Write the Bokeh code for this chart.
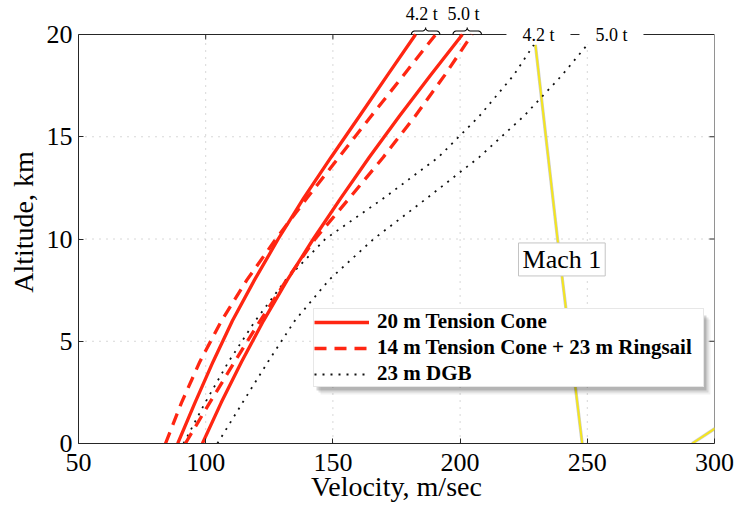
import numpy as np
from bokeh.plotting import figure
from bokeh.models import (Range1d, FixedTicker, Label, Legend, LegendItem,
                          BoxAnnotation)
from bokeh.embed import file_html
from bokeh.resources import INLINE

# --- descent profiles: velocity (m/s) against altitude (km) ---------------
ALT = [0, 2, 4, 6, 8, 10, 12, 14, 16, 18, 20]
cone_42 = [89.0, 95.8, 102.9, 110.5, 119.2, 128.5, 138.5, 149.3, 160.4, 171.4, 182.5]
cone_50 = [98.7, 106.1, 114.1, 122.7, 132.1, 142.3, 153.1, 164.3, 176.1, 188.3, 200.9]
ring_42 = [84.2, 90.5, 97.7, 106.2, 116.2, 127.6, 139.8, 152.4, 165.0, 177.7, 190.4]
ring_50 = [92.0, 101.6, 111.4, 121.4, 131.8, 143.0, 156.5, 169.8, 182.3, 193.9, 204.7]

ALT_DGB = [0, 2, 4, 6, 8, 10, 12, 14, 16, 18, 19.5]
dgb_42 = [91.3, 99.8, 109.0, 119.5, 131.5, 147.0, 170.0, 191.5, 207.5, 221.0, 229.0]
dgb_50 = [104.6, 114.5, 124.5, 135.0, 148.5, 166.0, 187.0, 207.5, 225.0, 240.0, 250.0]

# speed of sound
MACH_ALT = [0, 10, 19.5]
mach_1 = [248.0, 238.3, 229.6]
MACH_ALT_B = [0, 0.8]
mach_1_b = [291.2, 301.0]

X_TICKS = [50, 100, 150, 200, 250, 300]
Y_TICKS = [0, 5, 10, 15, 20]
X_MIN, X_MAX = 50, 300
Y_MIN, Y_MAX = 0, 20

MASS_LABELS = ["4.2 t", "5.0 t"]
DGB_LABEL_X = [230.8, 259.5]
MACH_LABEL = ("Mach 1", 240.0, 9.0)

# frame geometry (pixels); headroom above the box holds the brace labels
FRAME_W, FRAME_H = 636, 443
HEADROOM_PX = 34
Y_TOP = Y_MAX * FRAME_H / (FRAME_H - HEADROOM_PX)
PX_X = FRAME_W / (X_MAX - X_MIN)
PX_Y = FRAME_H / (Y_TOP - Y_MIN)

RED = "#ff2612"
DOT = "#111111"
GRID = "#b0b0b0"
FRAME = "#262626"
SERIF = "Liberation Serif"

p = figure(frame_width=FRAME_W, frame_height=FRAME_H,
           x_range=Range1d(X_MIN, X_MAX), y_range=Range1d(Y_MIN, Y_TOP),
           output_backend="svg", toolbar_location=None,
           min_border_left=78, min_border_right=25,
           min_border_top=0, min_border_bottom=69)
p.outline_line_color = None
p.xgrid.visible = False
p.ygrid.visible = False
p.background_fill_color = "white"
p.border_fill_color = "white"

for ax, ticks in ((p.xaxis[0], X_TICKS), (p.yaxis[0], Y_TICKS)):
    ax.ticker = FixedTicker(ticks=ticks)
    ax.major_tick_in = 5
    ax.major_tick_out = 0
    ax.minor_tick_line_color = None
    ax.axis_line_color = FRAME
    ax.major_tick_line_color = FRAME
    ax.major_label_text_font = SERIF
    ax.major_label_text_font_size = "26px"
    ax.major_label_text_color = "black"
    ax.axis_label_text_font = SERIF
    ax.axis_label_text_font_size = "28px"
    ax.axis_label_text_font_style = "normal"
    ax.axis_label_text_color = "black"

p.xaxis.axis_label = "Velocity, m/sec"
p.xaxis.major_label_standoff = 10
p.xaxis.axis_label_standoff = -3
p.yaxis.axis_label = "Altitude, km"
p.yaxis.bounds = (Y_MIN, Y_MAX)
p.yaxis.major_label_standoff = 6
p.yaxis.axis_label_standoff = 5

# dotted grid inside the axes box
gx = X_TICKS[1:-1]
gy = Y_TICKS[1:-1]
p.segment(x0=gx, y0=[Y_MIN] * len(gx), x1=gx, y1=[Y_MAX] * len(gx),
          line_color=GRID, line_width=1, line_dash="1 6")
p.segment(x0=[X_MIN] * len(gy), y0=gy, x1=[X_MAX] * len(gy), y1=gy,
          line_color=GRID, line_width=1, line_dash="1 6")

# top and right edges of the box, with inward ticks
p.segment(x0=[X_MIN, X_MAX], y0=[Y_MAX, Y_MIN], x1=[X_MAX, X_MAX], y1=[Y_MAX, Y_MAX],
          line_color=FRAME, line_width=1)
p.segment(x0=gx, y0=[Y_MAX] * len(gx), x1=gx, y1=[Y_MAX - 5 / PX_Y] * len(gx),
          line_color=FRAME, line_width=1)
p.segment(x0=[X_MAX] * len(gy), y0=gy, x1=[X_MAX - 5 / PX_X] * len(gy), y1=gy,
          line_color=FRAME, line_width=1)

# speed of sound
p.line(mach_1, MACH_ALT, line_color="#9a9a9a", line_width=3.2, line_alpha=0.5)
p.line(mach_1, MACH_ALT, line_color="#f5e61c", line_width=2)
p.line(mach_1_b, MACH_ALT_B, line_color="#9a9a9a", line_width=3.2, line_alpha=0.5)
p.line(mach_1_b, MACH_ALT_B, line_color="#f5e61c", line_width=2)

# descent curves
r_d42 = p.line(dgb_42, ALT_DGB, line_color=DOT, line_width=1.8, line_dash="2 6")
p.line(dgb_50, ALT_DGB, line_color=DOT, line_width=1.8, line_dash="2 6")
r_c42 = p.line(cone_42, ALT, line_color=RED, line_width=3.3)
p.line(cone_50, ALT, line_color=RED, line_width=3.3)
r_r42 = p.line(ring_42, ALT, line_color=RED, line_width=3.3, line_dash="12 8")
p.line(ring_50, ALT, line_color=RED, line_width=3.3, line_dash="12 8")


def brace(x_left, x_right, y_base, height_px=7):
    """Curly brace opening downward, feet at y_base, cusp pointing up."""
    w = (x_right - x_left) * PX_X
    r = height_px / 2.0
    th = np.linspace(0, np.pi / 2, 12)
    # left half in pixel space
    a1x, a1y = r - r * np.cos(th), r * np.sin(th)
    a2x, a2y = (w / 2 - r) + r * np.sin(th), r + (r - r * np.cos(th))
    hx = np.concatenate([a1x, a2x])
    hy = np.concatenate([a1y, a2y])
    fx = np.concatenate([hx, (w - hx)[::-1]])
    fy = np.concatenate([hy, hy[::-1]])
    return x_left + fx / PX_X, y_base + fy / PX_Y


tops = [(cone_42[-1], ring_42[-1]), (cone_50[-1], ring_50[-1])]
for (a, b), txt in zip(tops, MASS_LABELS):
    mid = (a + b) / 2.0
    bx, by = brace(mid - 5.6, mid + 5.6, Y_MAX)
    p.line(bx, by, line_color="black", line_width=1.1)
    p.add_layout(Label(x=mid - 1.5, y=Y_MAX + 21 / PX_Y, text=txt,
                       text_font=SERIF, text_font_size="18px",
                       text_align="center", text_baseline="middle",
                       text_color="black"))

for x, txt in zip(DGB_LABEL_X, MASS_LABELS):
    p.add_layout(Label(x=x, y=Y_MAX, text=txt, text_font=SERIF,
                       text_font_size="18px", text_align="center",
                       text_baseline="middle", text_color="black",
                       background_fill_color="white",
                       padding=dict(left=16, right=16, top=0, bottom=0)))

mtxt, mx, my = MACH_LABEL
p.add_layout(Label(x=mx, y=my, text=mtxt, text_font=SERIF,
                   text_font_size="26px", text_align="center",
                   text_baseline="middle", text_color="black",
                   background_fill_color="white",
                   border_line_color="#c4c4c4", border_line_width=1,
                   padding=dict(left=4, right=4, top=2, bottom=2)))

# legend with a soft drop shadow
LEG_X, LEG_Y, LEG_W, LEG_H = 235, 56, 390, 75
for k, alpha in ((7, 0.06), (5, 0.10), (3, 0.16)):
    p.add_layout(BoxAnnotation(left=LEG_X + k, right=LEG_X + LEG_W + k,
                               bottom=LEG_Y - k, top=LEG_Y + LEG_H - k,
                               left_units="screen", right_units="screen",
                               bottom_units="screen", top_units="screen",
                               fill_color="black", fill_alpha=alpha,
                               line_color=None))

legend = Legend(items=[LegendItem(label="20 m Tension Cone", renderers=[r_c42]),
                       LegendItem(label="14 m Tension Cone + 23 m Ringsail", renderers=[r_r42]),
                       LegendItem(label="23 m DGB", renderers=[r_d42])],
                location=(LEG_X, LEG_Y), margin=0, padding=0, spacing=1,
                glyph_width=55, glyph_height=22, label_height=22,
                label_width=326, label_standoff=8,
                label_text_font=SERIF, label_text_font_size="21px",
                label_text_font_style="bold", label_text_color="black",
                border_line_color="#d0d0d0", border_line_width=1,
                background_fill_color="white", background_fill_alpha=1.0)
p.add_layout(legend)

open("out.html", "w").write(file_html(p, INLINE))
